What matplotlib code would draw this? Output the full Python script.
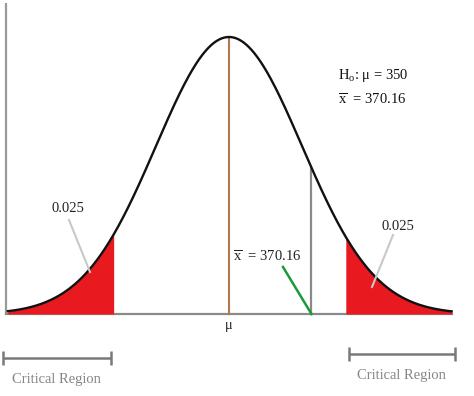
import numpy as np
import matplotlib
matplotlib.use("Agg")
import matplotlib.pyplot as plt

plt.rcParams['font.family'] = ['Liberation Serif', 'DejaVu Serif']
plt.rcParams['mathtext.fontset'] = 'custom'
plt.rcParams['mathtext.rm'] = 'Liberation Serif'
plt.rcParams['mathtext.it'] = 'Liberation Serif:italic'

# ---- data (z units, mean = 0, sd = 1) ----
curve_range = [-3.03, 3.05]
crit_left = -1.58
crit_right = 1.60
xbar_z = 1.13
tail_label = "0.025"
mu_label = "μ"
h0_text = r"H$_{\mathrm{o}}$: μ = 350"
xbar_text = r"$\overline{\mathrm{x}}$  = 370.16"
region_label = "Critical Region"

# ---- layout: map figure pixels to data ----
W, H = 474, 396
PX_PER_Z = 73.0
MU_PX = 229.0
BASE_PX = 314.0
PEAK_PX = 37.0
K = (BASE_PX - PEAK_PX) / (1 / np.sqrt(2 * np.pi))


def P(xp, yp):
    return (xp - MU_PX) / PX_PER_Z, (BASE_PX - yp) / K


def pdf(z):
    return np.exp(-z ** 2 / 2) / np.sqrt(2 * np.pi)


fig = plt.figure(figsize=(W / 100, H / 100), dpi=100)
ax = fig.add_axes([0, 0, 1, 1])
ax.set_xlim(P(0, 0)[0], P(W, 0)[0])
ax.set_ylim(P(0, H)[1], P(0, 0)[1])
ax.axis('off')

z = np.linspace(curve_range[0], curve_range[1], 600)
y = pdf(z)

# tails
zl = np.linspace(curve_range[0], crit_left, 200)
zr = np.linspace(crit_right, curve_range[1], 200)
ax.fill_between(zl, 0, pdf(zl), color='#e8191f', lw=0, zorder=2)
ax.fill_between(zr, 0, pdf(zr), color='#e8191f', lw=0, zorder=2)

# axes lines
axis_x = P(6, 0)[0]
ax.plot([axis_x, axis_x], [0, P(0, 3)[1]], color='#9a9a9a', lw=1.6, zorder=1, solid_capstyle='butt')
ax.plot([axis_x, curve_range[1]], [0, 0], color='#8a8a8a', lw=1.6, zorder=1)

# mean line
ax.plot([0, 0], [0, pdf(0)], color='#b07a4e', lw=1.5, zorder=3)
# x-bar line
ax.plot([xbar_z, xbar_z], [0, pdf(xbar_z)], color='#8a8a8a', lw=1.6, zorder=3)

# curve
ax.plot(z, y, color='#111111', lw=1.7, zorder=4)

# green pointer
g0 = P(283, 267)
ax.plot([g0[0], xbar_z], [g0[1], 0], color='#1a9a3a', lw=1.8, zorder=3)
ax.text(*P(267, 257), xbar_text, fontsize=10.5, ha='center', va='center', color='#222222')

# mu label
ax.text(0, P(0, 326)[1], mu_label, fontsize=10.5, ha='center', va='center', color='#222222')

# tail labels with pointers
a0, a1 = P(69, 220), P(90, 272)
ax.plot([a0[0], a1[0]], [a0[1], a1[1]], color='#c8c8c8', lw=1.5, zorder=5)
ax.text(*P(68, 209), tail_label, fontsize=10.5, ha='center', va='center', color='#222222')
b0, b1 = P(393, 235), P(372, 287)
ax.plot([b0[0], b1[0]], [b0[1], b1[1]], color='#c8c8c8', lw=1.5, zorder=5)
ax.text(*P(398, 226), tail_label, fontsize=10.5, ha='center', va='center', color='#222222')

# hypothesis text
ax.text(*P(338, 75), h0_text, fontsize=10.5, ha='left', va='center', color='#111111')
ax.text(*P(338, 100), xbar_text, fontsize=10.5, ha='left', va='center', color='#111111')

# critical region brackets
def bracket(x0, x1, yp, label_y):
    yc = P(0, yp)[1]
    dy = 7 / K
    kw = dict(color='#7a7a7a', lw=1.8, solid_capstyle='butt')
    ax.plot([x0, x1], [yc, yc], **kw)
    ax.plot([x0, x0], [yc - dy, yc + dy], **kw)
    ax.plot([x1, x1], [yc - dy, yc + dy], **kw)
    ax.text((x0 + x1) / 2, P(0, label_y)[1], region_label, fontsize=10.5,
            ha='center', va='center', color='#858585')

bracket(curve_range[0] - 0.07, crit_left - 0.04, 358, 379)
bracket(crit_right + 0.04, curve_range[1] + 0.04, 354, 375)

fig.savefig('out.png', dpi=100)
